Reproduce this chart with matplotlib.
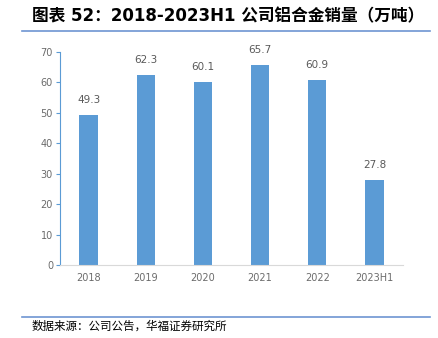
import matplotlib
matplotlib.use("Agg")
import matplotlib.pyplot as plt
from matplotlib.lines import Line2D

plt.rcParams["font.family"] = ["Noto Sans CJK SC", "DejaVu Sans"]

# 数据
categories = ["2018", "2019", "2020", "2021", "2022", "2023H1"]
values = [49.3, 62.3, 60.1, 65.7, 60.9, 27.8]
yticks = [0, 10, 20, 30, 40, 50, 60, 70]

title = "图表 52：2018-2023H1 公司铝合金销量（万吨）"
source = "数据来源：公司公告，华福证券研究所"

fig = plt.figure(figsize=(4.38, 3.38), dpi=100)
ax = fig.add_axes([60 / 438, 73 / 338, 343 / 438, 213 / 338])

x = range(len(categories))
ax.bar(x, values, width=0.32, color="#5B9BD5", zorder=2)

for xi, v in zip(x, values):
    ax.text(xi, v + 3.3, f"{v:.1f}", ha="center", va="bottom",
            fontsize=7.5, color="#595959", family="DejaVu Sans")

ax.set_xlim(-0.5, len(categories) - 0.5)
ax.set_ylim(0, 70)
ax.set_yticks(yticks)
ax.set_xticks(list(x))
ax.set_xticklabels(categories)

for lbl in ax.get_xticklabels() + ax.get_yticklabels():
    lbl.set_family("DejaVu Sans")
    lbl.set_fontsize(7)
    lbl.set_color("#6b6b6b")

ax.spines["top"].set_visible(False)
ax.spines["right"].set_visible(False)
ax.spines["left"].set_color("#5B9BD5")
ax.spines["bottom"].set_color("#D9D9D9")
ax.tick_params(axis="y", length=3, color="#5B9BD5", pad=2)
ax.tick_params(axis="x", length=0, pad=6)

# 标题与分隔线
fig.text(32 / 438, 1 - 16 / 338, title, fontsize=12, fontweight="bold",
         ha="left", va="center", color="black",
         family=["DejaVu Sans", "Noto Sans CJK SC"])
fig.add_artist(Line2D([22 / 438, 430 / 438], [1 - 31 / 338, 1 - 31 / 338],
                      color="#6E95D2", lw=1.2))
fig.add_artist(Line2D([22 / 438, 430 / 438], [1 - 317 / 338, 1 - 317 / 338],
                      color="#6E95D2", lw=1.2))
fig.text(32 / 438, 1 - 326 / 338, source, fontsize=8.3, ha="left", va="center",
         color="black")

fig.savefig("out.png", dpi=100)
